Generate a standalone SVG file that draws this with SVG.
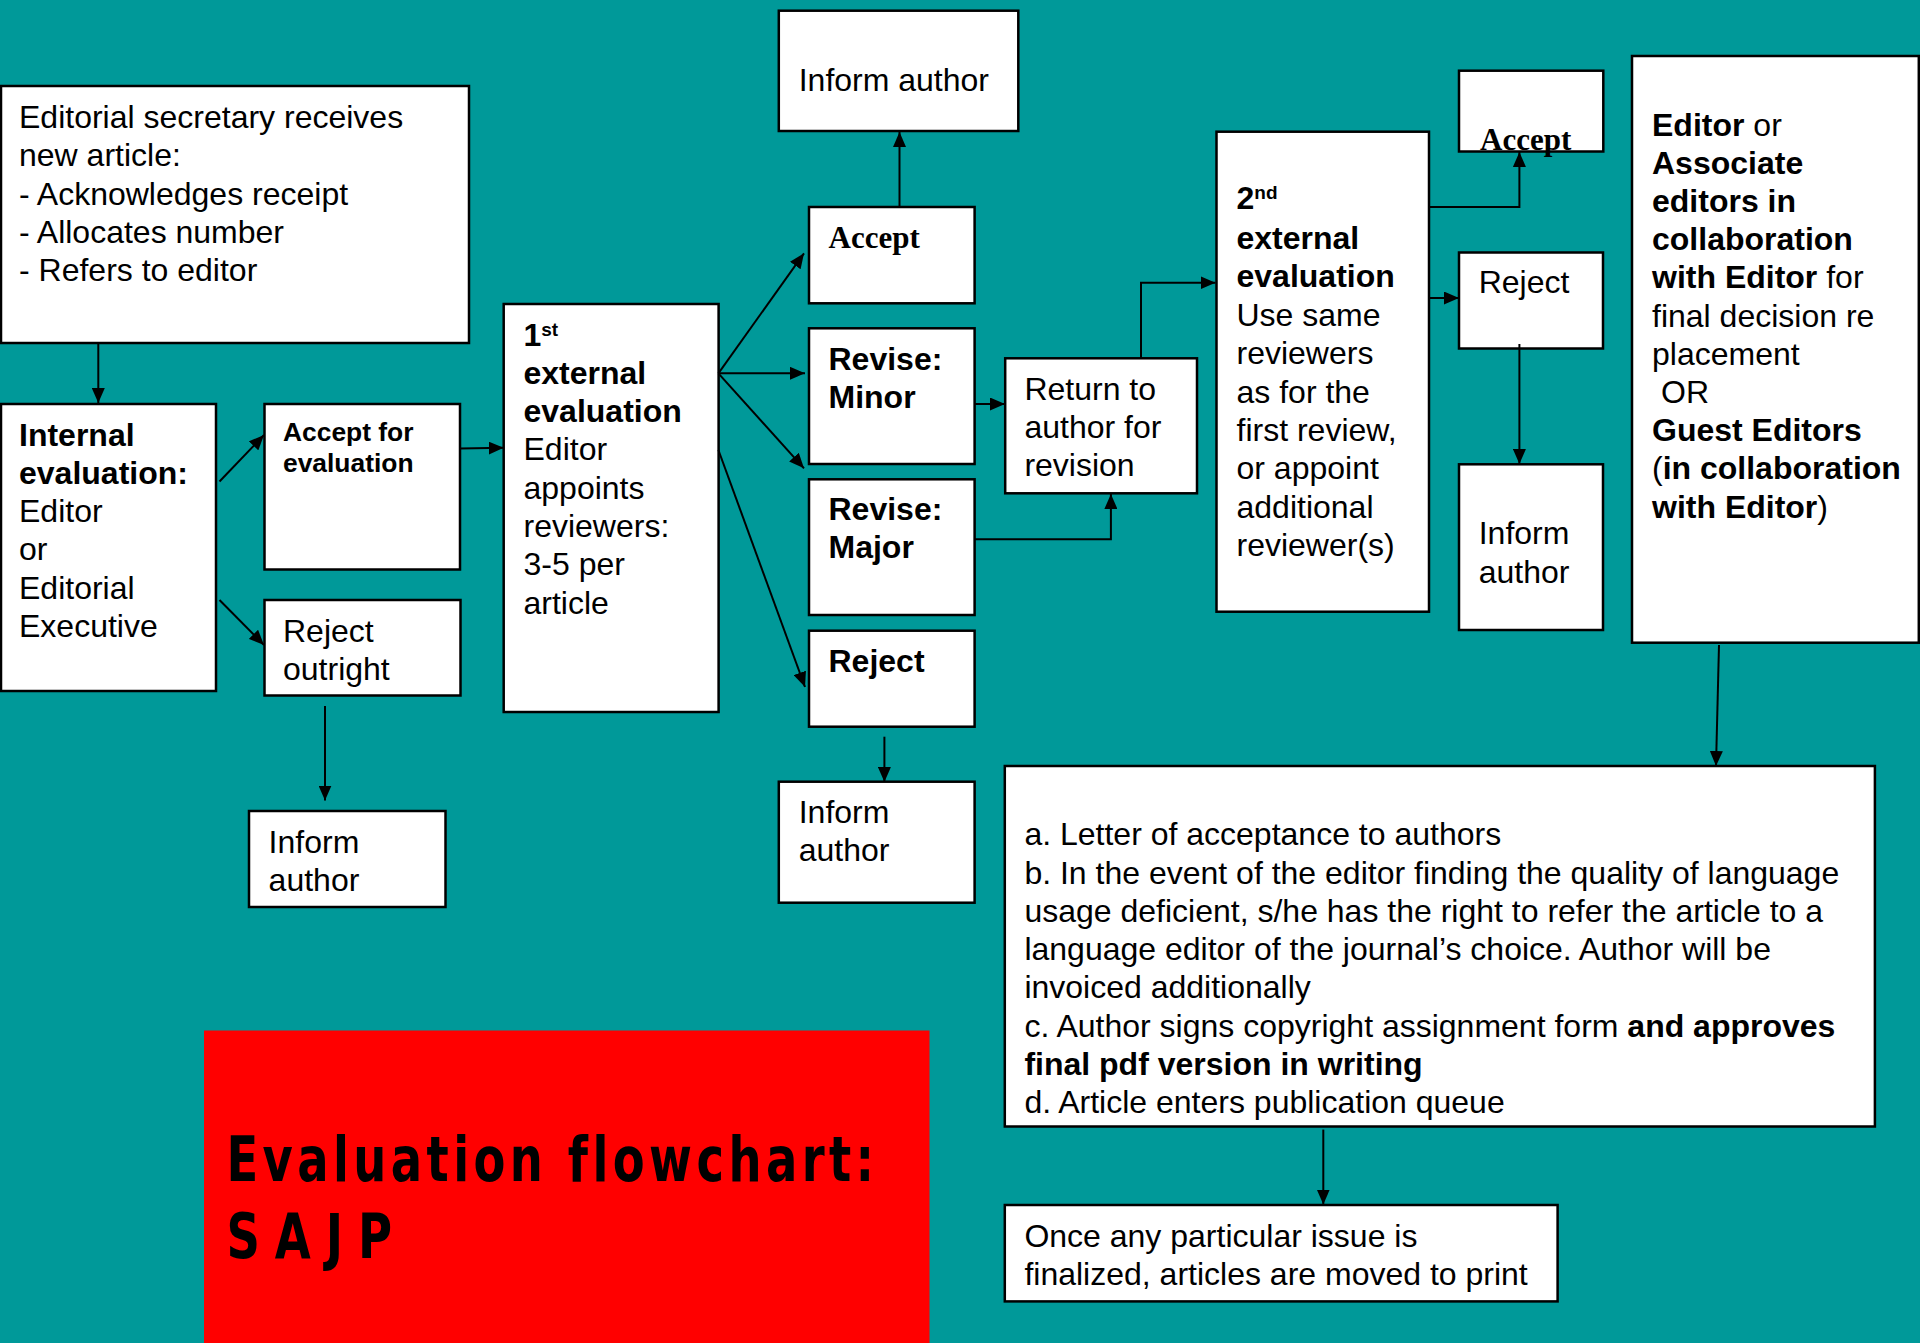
<svg xmlns="http://www.w3.org/2000/svg" width="1920" height="1343" viewBox="0 0 1920 1343">
<defs>
<style>
.box{fill:#fff;stroke:#000;stroke-width:2.5}
.t{font-family:"Liberation Sans",Arial,sans-serif;font-size:32px;fill:#000}
.b{font-weight:bold}
.s{font-family:"Liberation Serif","Times New Roman",serif;font-size:31px;font-weight:bold;fill:#000}
.c{stroke:#000;stroke-width:2;fill:none;marker-end:url(#ah)}
.title{font-family:"DejaVu Sans Condensed","DejaVu Sans",sans-serif;font-weight:bold;font-size:63px;fill:#000;font-variant-ligatures:none}
</style>
<marker id="ah" markerUnits="userSpaceOnUse" markerWidth="15" markerHeight="13" refX="15" refY="6.5" orient="auto">
<path d="M0,0 L15,6.5 L0,13 z" fill="#000"/>
</marker>
</defs>
<rect width="1920" height="1343" fill="#009999"/>

<g id="n-secretary">
<rect class="box" x="1" y="86" width="468" height="257"/>
<text class="t" x="19" y="128">Editorial secretary receives</text>
<text class="t" x="19" y="166">new article:</text>
<text class="t" x="19" y="204.5">- Acknowledges receipt</text>
<text class="t" x="19" y="243">- Allocates number</text>
<text class="t" x="19" y="281">- Refers to editor</text>
</g>

<g id="n-internal">
<rect class="box" x="1" y="404" width="215" height="287"/>
<text class="t b" x="19" y="445.5">Internal</text>
<text class="t b" x="19" y="483.8">evaluation:</text>
<text class="t" x="19" y="522">Editor</text>
<text class="t" x="19" y="560.4">or</text>
<text class="t" x="19" y="598.7">Editorial</text>
<text class="t" x="19" y="637">Executive</text>
</g>

<g id="n-acceptfor">
<rect class="box" x="264.5" y="404" width="195.5" height="165.5"/>
<text class="t b" x="283" y="440.5" style="font-size:26.4px">Accept for</text>
<text class="t b" x="283" y="471.5" style="font-size:26.4px">evaluation</text>
</g>

<g id="n-rejectoutright">
<rect class="box" x="264.5" y="600" width="196" height="95.5"/>
<text class="t" x="283" y="641.5">Reject</text>
<text class="t" x="283" y="679.8">outright</text>
</g>

<g id="n-inform1">
<rect class="box" x="249" y="811" width="196.5" height="96"/>
<text class="t" x="268.6" y="853">Inform</text>
<text class="t" x="268.6" y="891.3">author</text>
</g>

<g id="n-ext1">
<rect class="box" x="503.7" y="304" width="214.9" height="408"/>
<text class="t b" x="523.5" y="345.5">1<tspan style="font-size:19px" dy="-10">st</tspan></text>
<text class="t b" x="523.5" y="383.8">external</text>
<text class="t b" x="523.5" y="422">evaluation</text>
<text class="t" x="523.5" y="460.3">Editor</text>
<text class="t" x="523.5" y="498.6">appoints</text>
<text class="t" x="523.5" y="536.9">reviewers:</text>
<text class="t" x="523.5" y="575.2">3-5 per</text>
<text class="t" x="523.5" y="613.5">article</text>
</g>

<g id="n-inform-top">
<rect class="box" x="778.8" y="10.7" width="239.5" height="120.3"/>
<text class="t" x="798.7" y="90.7">Inform author</text>
</g>

<g id="n-accept1">
<rect class="box" x="809" y="207" width="165.6" height="96.3"/>
<text class="s" x="828.5" y="248.3">Accept</text>
</g>

<g id="n-minor">
<rect class="box" x="809" y="328.3" width="165.6" height="135.7"/>
<text class="t b" x="828.5" y="370">Revise:</text>
<text class="t b" x="828.5" y="408.3">Minor</text>
</g>

<g id="n-major">
<rect class="box" x="809" y="479.3" width="165.6" height="135.7"/>
<text class="t b" x="828.5" y="520">Revise:</text>
<text class="t b" x="828.5" y="558.3">Major</text>
</g>

<g id="n-reject1">
<rect class="box" x="809" y="630.7" width="165.6" height="96"/>
<text class="t b" x="828.5" y="671.7">Reject</text>
</g>

<g id="n-inform-mid">
<rect class="box" x="778.8" y="781.7" width="195.8" height="121"/>
<text class="t" x="798.7" y="822.7">Inform</text>
<text class="t" x="798.7" y="861">author</text>
</g>

<g id="n-return">
<rect class="box" x="1005.2" y="358.3" width="191.8" height="135"/>
<text class="t" x="1024.4" y="399.5">Return to</text>
<text class="t" x="1024.4" y="437.8">author for</text>
<text class="t" x="1024.4" y="476.1">revision</text>
</g>

<g id="n-ext2">
<rect class="box" x="1216.5" y="131.7" width="212.5" height="480"/>
<text class="t b" x="1236.5" y="209">2<tspan style="font-size:19px" dy="-10">nd</tspan></text>
<text class="t b" x="1236.5" y="249">external</text>
<text class="t b" x="1236.5" y="287.3">evaluation</text>
<text class="t" x="1236.5" y="325.7">Use same</text>
<text class="t" x="1236.5" y="364.1">reviewers</text>
<text class="t" x="1236.5" y="402.5">as for the</text>
<text class="t" x="1236.5" y="440.9">first review,</text>
<text class="t" x="1236.5" y="479.3">or appoint</text>
<text class="t" x="1236.5" y="517.7">additional</text>
<text class="t" x="1236.5" y="556.1">reviewer(s)</text>
</g>

<g id="n-accept2">
<rect class="box" x="1459" y="70.7" width="144.3" height="80.8"/>
<text class="s" x="1480" y="150">Accept</text>
</g>

<g id="n-reject2">
<rect class="box" x="1459" y="252.5" width="144" height="96"/>
<text class="t" x="1478.7" y="293.4">Reject</text>
</g>

<g id="n-inform-right">
<rect class="box" x="1459" y="464.3" width="144" height="165.7"/>
<text class="t" x="1478.7" y="543.8">Inform</text>
<text class="t" x="1478.7" y="582.5">author</text>
</g>

<g id="n-editor">
<rect class="box" x="1632" y="56" width="286.8" height="586.7"/>
<text class="t" x="1652" y="135.5"><tspan class="b">Editor</tspan> or</text>
<text class="t b" x="1652" y="173.7">Associate</text>
<text class="t b" x="1652" y="211.9">editors in</text>
<text class="t b" x="1652" y="250.1">collaboration</text>
<text class="t" x="1652" y="288.3"><tspan class="b">with Editor</tspan> for</text>
<text class="t" x="1652" y="326.5">final decision re</text>
<text class="t" x="1652" y="364.7">placement</text>
<text class="t" x="1661" y="402.9">OR</text>
<text class="t b" x="1652" y="441.1">Guest Editors</text>
<text class="t" x="1652" y="479.3">(<tspan class="b">in collaboration</tspan></text>
<text class="t" x="1652" y="517.5"><tspan class="b">with Editor</tspan>)</text>
</g>

<g id="n-final">
<rect class="box" x="1004.8" y="766" width="870.1" height="360.5"/>
<text class="t" x="1024.4" y="845.2">a. Letter of acceptance to authors</text>
<text class="t" x="1024.4" y="883.5">b. In the event of the editor finding the quality of language</text>
<text class="t" x="1024.4" y="921.8">usage deficient, s/he has the right to refer the article to a</text>
<text class="t" x="1024.4" y="960.1">language editor of the journal’s choice. Author will be</text>
<text class="t" x="1024.4" y="998.4">invoiced additionally</text>
<text class="t" x="1024.4" y="1036.7">c. Author signs copyright assignment form <tspan class="b">and approves</tspan></text>
<text class="t b" x="1024.4" y="1075">final pdf version in writing</text>
<text class="t" x="1024.4" y="1113.3">d. Article enters publication queue</text>
</g>

<g id="n-print">
<rect class="box" x="1004.8" y="1205" width="552.8" height="96.4"/>
<text class="t" x="1024.4" y="1247">Once any particular issue is</text>
<text class="t" x="1024.4" y="1285.3">finalized, articles are moved to print</text>
</g>

<g id="n-title">
<rect x="204" y="1030.5" width="725.5" height="320" fill="#ff0000"/>
<text class="title" transform="translate(226.4,1181) scale(0.82,1)" x="0" y="0" textLength="790" lengthAdjust="spacing">Evaluation flowchart:</text>
<text class="title" transform="translate(226.4,1257.7) scale(0.82,1)" x="0" y="0" textLength="202" lengthAdjust="spacing">SAJP</text>
</g>

<g id="connectors">
<path class="c" d="M98.3,343 L98.3,403"/>
<path class="c" d="M219.5,481.5 L264,435"/>
<path class="c" d="M219.5,600 L264,645"/>
<path class="c" d="M460,448.5 L503.7,447.8"/>
<path class="c" d="M325,706 L325,800.5"/>
<path class="c" d="M718.4,373.3 L804,253.3"/>
<path class="c" d="M718.4,373.3 L805,373.3"/>
<path class="c" d="M718.4,373.3 L804,468.3"/>
<path class="c" d="M718.4,450 L805,687"/>
<path class="c" d="M899.5,207 L899.5,132"/>
<path class="c" d="M974.6,404 L1005,404"/>
<path class="c" d="M974.6,539.3 L1110.9,539.3 L1110.9,494"/>
<path class="c" d="M1141,358 L1141,282.7 L1215.5,282.7"/>
<path class="c" d="M884.4,736.7 L884.4,782"/>
<path class="c" d="M1429,207 L1519.4,207 L1519.4,152"/>
<path class="c" d="M1429,298 L1459,298"/>
<path class="c" d="M1519.4,344 L1519.4,464"/>
<path class="c" d="M1719,645 L1716,766"/>
<path class="c" d="M1323.3,1129.6 L1323.3,1204.5"/>
</g>
</svg>
